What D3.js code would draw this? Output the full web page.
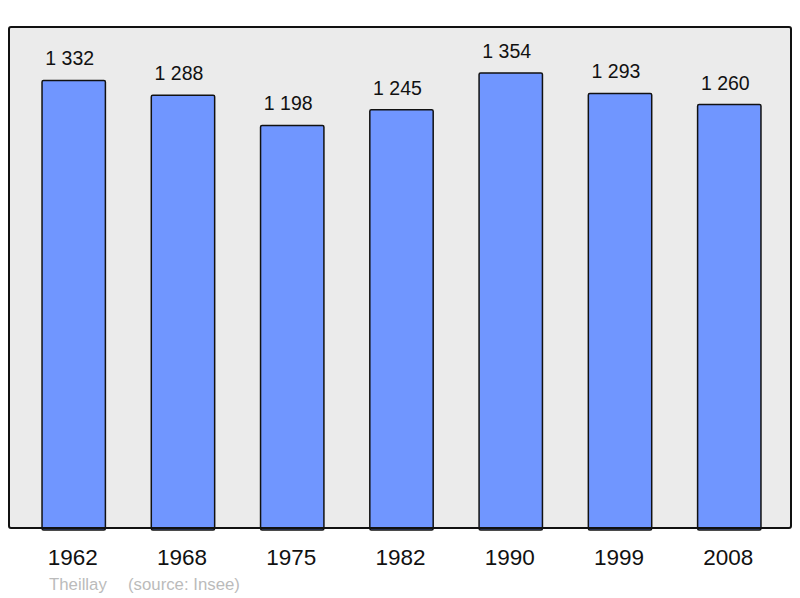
<!DOCTYPE html>
<html lang="fr">
    <head>
        <meta charset="utf-8">
        <title>Theillay population</title>
        <script src="https://d3js.org/d3.v7.min.js"></script>
        <style type="text/css">
            body { margin: 0; background: #fff; }
            text { font-family: "Liberation Sans", Arial, sans-serif; }
        </style>
    </head>
    <body>
        <script>
            // data
            var years = ["1962", "1968", "1975", "1982", "1990", "1999", "2008"];
            var population = [1332, 1288, 1198, 1245, 1354, 1293, 1260];
            var commune = "Theillay";
            var source = "(source: Insee)";

            // configuration
            var outerWidth = 800;
            var outerHeight = 598;
            var panel = { left: 9, top: 27, right: 791, bottom: 528 };

            var svg = d3.select("body")
                        .append("svg")
                        .attr("width", outerWidth)
                        .attr("height", outerHeight);

            var xScale = d3.scaleBand()
                .domain(years)
                .range([9.25, 793.75])
                .paddingInner(0.42)
                .paddingOuter(0.3);

            var yScale = d3.scaleLinear()
                .domain([0, 1354])
                .range([panel.bottom, 73]);

            // grey panel
            svg.append("rect")
                .attr("x", panel.left)
                .attr("y", panel.top)
                .attr("width", panel.right - panel.left)
                .attr("height", panel.bottom - panel.top)
                .attr("rx", 2)
                .attr("fill", "#ebebeb")
                .attr("stroke", "none");

            var data = years.map(function (y, i) { return { year: y, value: population[i] }; });

            svg.selectAll("rect.bar").data(data).enter().append("rect")
                .attr("class", "bar")
                .attr("x", function (d) { return xScale(d.year); })
                .attr("y", function (d) { return yScale(d.value); })
                .attr("width", xScale.bandwidth())
                .attr("height", function (d) { return panel.bottom - yScale(d.value) + 2; })
                .attr("rx", 1.5)
                .attr("fill", "#7096ff")
                .attr("stroke", "#111")
                .attr("stroke-width", 1.5);

            // panel border on top of bars
            svg.append("rect")
                .attr("x", panel.left)
                .attr("y", panel.top)
                .attr("width", panel.right - panel.left)
                .attr("height", panel.bottom - panel.top)
                .attr("rx", 2)
                .attr("fill", "none")
                .attr("stroke", "#111")
                .attr("stroke-width", 2);

            // value labels
            svg.selectAll("text.value").data(data).enter().append("text")
                .attr("class", "value")
                .attr("x", function (d) { return xScale(d.year) + xScale.bandwidth() / 2 - 4; })
                .attr("y", function (d) { return yScale(d.value) - 15; })
                .attr("text-anchor", "middle")
                .attr("font-size", 19.5)
                .attr("fill", "#111")
                .text(function (d) { return d3.format(",")(d.value).replace(",", " "); });

            // year labels
            svg.selectAll("text.year").data(data).enter().append("text")
                .attr("class", "year")
                .attr("x", function (d) { return xScale(d.year) + xScale.bandwidth() / 2 - 1; })
                .attr("y", 565)
                .attr("text-anchor", "middle")
                .attr("font-size", 22.5)
                .attr("fill", "#111")
                .text(function (d) { return d.year; });

            // source line
            svg.append("text")
                .attr("x", 49)
                .attr("y", 590)
                .attr("font-size", 16.8)
                .attr("fill", "#bbbbbb")
                .text(commune);

            svg.append("text")
                .attr("x", 128)
                .attr("y", 590)
                .attr("font-size", 16.8)
                .attr("fill", "#bbbbbb")
                .text(source);
        </script>
    </body>
</html>
